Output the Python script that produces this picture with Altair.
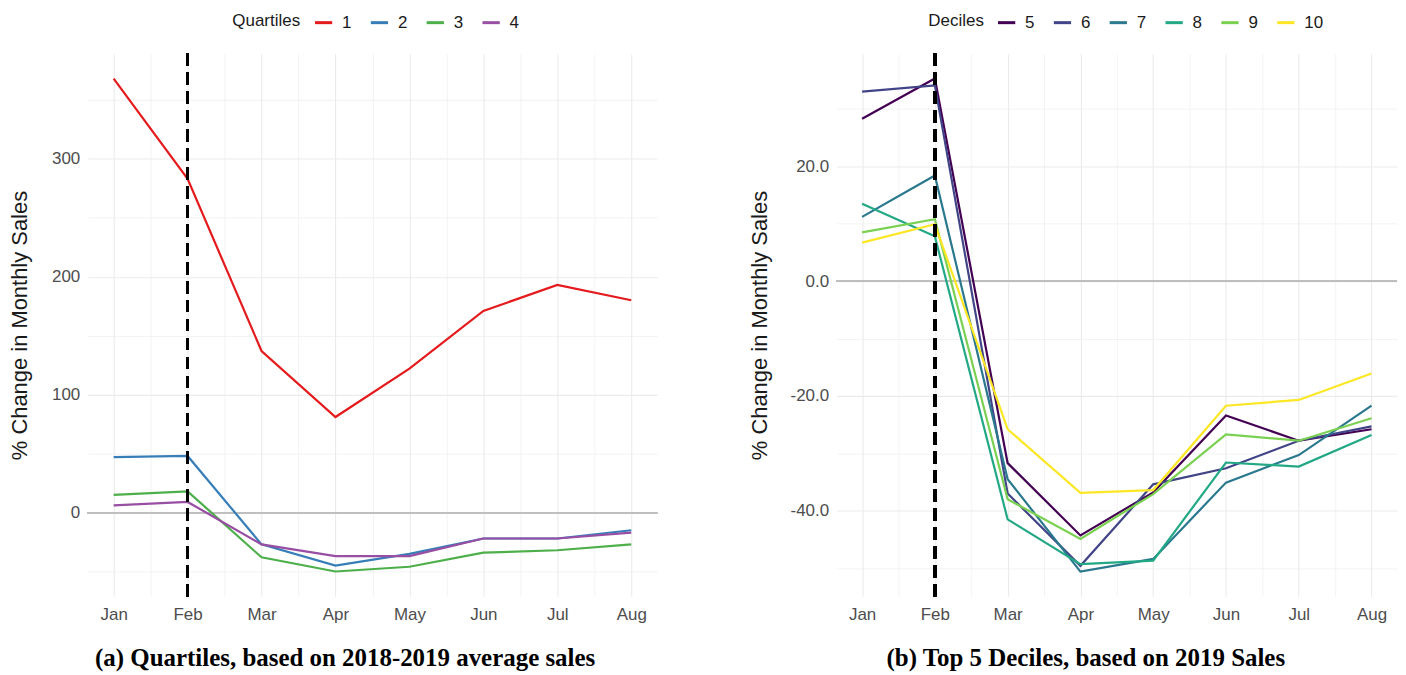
import json
import altair as alt
import pandas as pd

months = ["Jan", "Feb", "Mar", "Apr", "May", "Jun", "Jul", "Aug"]

quartile_names = ["1", "2", "3", "4"]
q1 = [368, 283, 137, 81, 122, 171, 193, 180]
q2 = [47, 48, -27, -45, -35, -22, -22, -15]
q3 = [15, 18, -38, -50, -46, -34, -32, -27]
q4 = [6, 9, -27, -37, -37, -22, -22, -17]
quartile_colors = ["#E41A1C", "#377EB8", "#4DAF4A", "#984EA3"]

decile_names = ["5", "6", "7", "8", "9", "10"]
d5 = [28.3, 35.3, -31.7, -44.3, -36.8, -23.4, -27.8, -25.8]
d6 = [33.0, 34.1, -37.0, -49.6, -35.4, -32.6, -27.8, -25.3]
d7 = [11.2, 18.4, -34.5, -50.6, -48.4, -35.1, -30.3, -21.7]
d8 = [13.5, 7.8, -41.5, -49.3, -48.7, -31.6, -32.3, -26.8]
d9 = [8.5, 10.8, -38.0, -44.9, -37.1, -26.7, -27.8, -23.9]
d10 = [6.7, 9.9, -25.8, -36.9, -36.4, -21.7, -20.7, -16.1]
decile_colors = ["#440154", "#414487", "#2A788E", "#22A884", "#7AD151", "#FDE725"]

left_ticks = [-50, 0, 50, 100, 150, 200, 250, 300, 350]
right_ticks = [-50, -40, -30, -20, -10, 0, 10, 20, 30]
x_ticks = [1, 1.5, 2, 2.5, 3, 3.5, 4, 4.5, 5, 5.5, 6, 6.5, 7, 7.5, 8]

caption_a = "(a) Quartiles, based on 2018-2019 average sales"
caption_b = "(b) Top 5 Deciles, based on 2019 Sales"
y_title = "% Change in Monthly Sales"


def long_frame(names, series):
    rows = []
    for name, vals in zip(names, series):
        for i, v in enumerate(vals):
            rows.append({"m": i + 1, "g": name, "v": v})
    return pd.DataFrame(rows)


FONT = "Liberation Sans"
month_js = json.dumps(months)


def panel(df, names, colors, legend_title, domain, yvals, major_test, ylabel_expr,
          legend_x, width, caption, cap_dx, title_pad):
    x_axis = alt.Axis(
        values=x_ticks,
        labelExpr=f"datum.value % 1 === 0 ? {month_js}[datum.value - 1] : ''",
        title=None,
        grid=True,
        gridColor="#EBEBEB",
        gridWidth={"condition": {"test": "datum.value % 1 !== 0", "value": 0.6}, "value": 1.1},
        ticks=False,
        domain=False,
        labelPadding=10,
        labelFontSize=17,
        labelColor="#4D4D4D",
        labelFont=FONT,
    )
    y_axis = alt.Axis(
        values=yvals,
        labelExpr=ylabel_expr,
        title=y_title,
        grid=True,
        gridColor="#EBEBEB",
        gridWidth={"condition": {"test": f"!({major_test})", "value": 0.6}, "value": 1.1},
        ticks=False,
        domain=False,
        labelPadding=8,
        labelFontSize=17,
        labelColor="#4D4D4D",
        labelFont=FONT,
        titleFont=FONT,
        titleFontSize=22,
        titleFontWeight="normal",
        titleColor="#1A1A1A",
        titlePadding=title_pad,
    )
    xs = alt.X("m:Q", scale=alt.Scale(domain=[0.65, 8.35], nice=False, zero=False), axis=x_axis)
    ys = alt.Y("v:Q", scale=alt.Scale(domain=domain, nice=False, zero=False), axis=y_axis)

    zero = alt.Chart(df).mark_rule(color="#BEBEBE", strokeWidth=1.2).encode(y=alt.datum(0))
    lines = alt.Chart(df).mark_line(strokeWidth=2.2).encode(
        x=xs,
        y=ys,
        color=alt.Color(
            "g:N",
            scale=alt.Scale(domain=names, range=colors),
            sort=names,
            legend=alt.Legend(
                title=legend_title,
                orient="none",
                direction="horizontal",
                legendX=legend_x,
                legendY=-42,
                titleOrient="left",
                titleFont=FONT,
                titleFontSize=17,
                titleFontWeight="normal",
                titleColor="#1A1A1A",
                titlePadding=12,
                labelFont=FONT,
                labelFontSize=17,
                labelColor="#1A1A1A",
                symbolType="stroke",
                symbolStrokeWidth=3,
                symbolSize=300,
                columnPadding=12,
                labelOffset=8,
            ),
        ),
        order=alt.Order("m:Q"),
    )
    vline = alt.Chart(df).mark_rule(color="black", strokeWidth=2.6, strokeDash=[12, 7]).encode(
        x=alt.datum(2)
    )
    return alt.layer(zero, lines, vline).properties(
        width=width,
        height=544,
        title=alt.TitleParams(
            caption,
            orient="bottom",
            anchor="middle",
            frame="bounds",
            font="Liberation Serif",
            fontSize=25,
            fontWeight="bold",
            color="black",
            offset=24,
            dx=cap_dx,
        ),
    )


dfa = long_frame(quartile_names, [q1, q2, q3, q4])
dfb = long_frame(decile_names, [d5, d6, d7, d8, d9, d10])

left_major = "datum.value % 100 === 0"
right_major = "datum.value % 20 === 0"
left_expr = f"{left_major} ? format(datum.value, 'd') : ''"
right_expr = f"{right_major} ? ((datum.value < 0 ? '-' : '') + format(abs(datum.value), '.1f')) : ''"

left = panel(dfa, quartile_names, quartile_colors, "Quartiles", [-71, 389], left_ticks,
             left_major, left_expr, 145, 571, caption_a, 12, 20)
right = panel(dfb, decile_names, decile_colors, "Deciles", [-54.9, 39.6], right_ticks,
              right_major, right_expr, 92, 562, caption_b, 13, 19)

chart = (
    alt.hconcat(left, right, spacing=90)
    .resolve_scale(color="independent")
    .resolve_legend(color="independent")
    .properties(padding={"left": 0, "top": 3, "right": 0, "bottom": 0})
    .configure(background="white")
    .configure_view(stroke=None)
)

chart.save("out.html", embed_options={"renderer": "svg", "actions": False})
